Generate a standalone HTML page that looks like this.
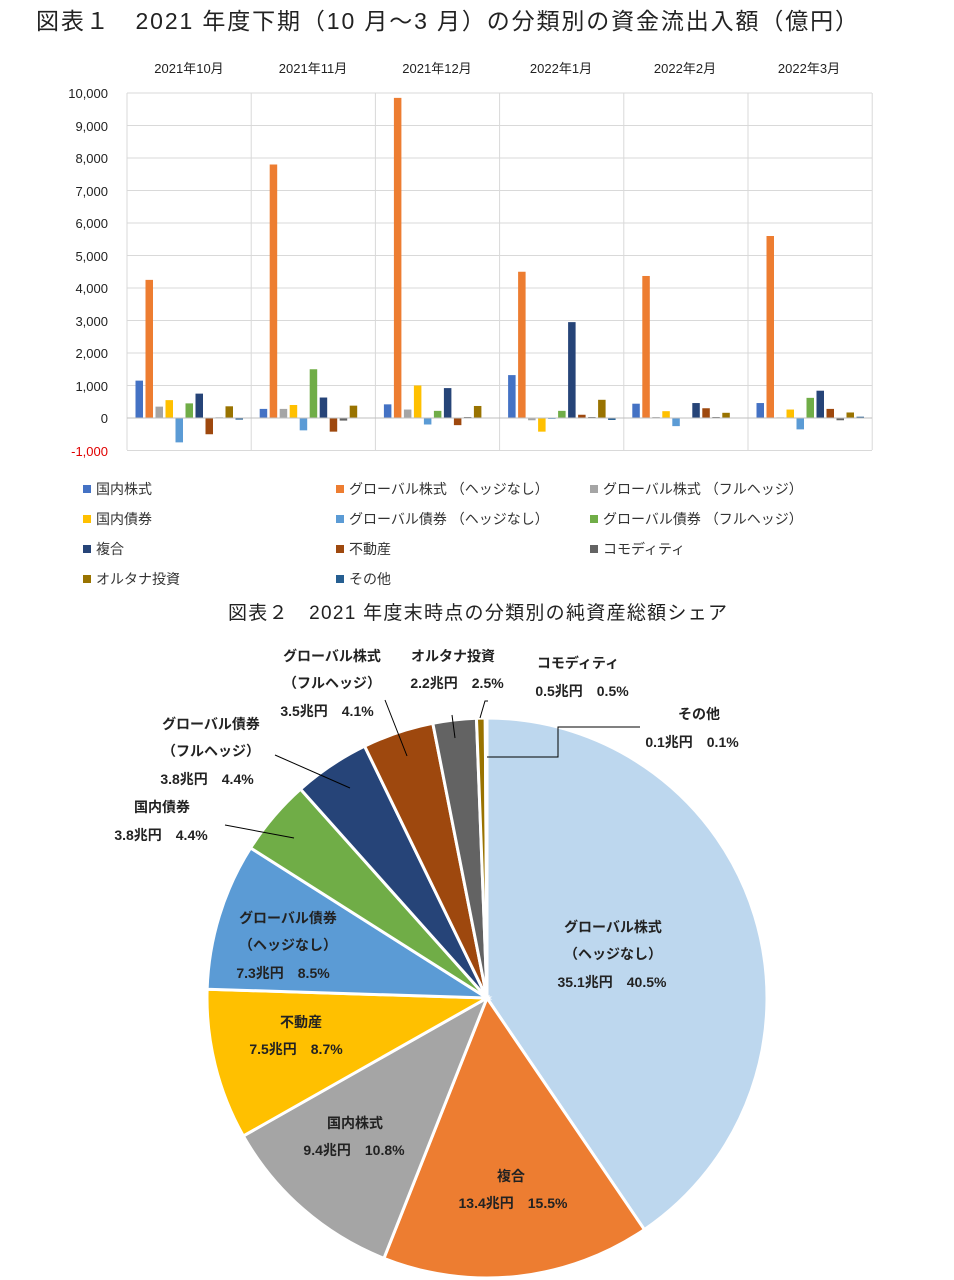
<!DOCTYPE html>
<html><head><meta charset="utf-8">
<style>
body{margin:0;background:#fff;width:954px;height:1280px;overflow:hidden;font-family:"Liberation Sans","Noto Sans CJK JP",sans-serif;color:#222}
svg{position:absolute;left:0;top:0}
text{font-family:"Liberation Sans","Noto Sans CJK JP",sans-serif}
</style></head><body>
<svg id="s" width="954" height="1280" xmlns="http://www.w3.org/2000/svg">
<text x="36" y="29" font-size="23" fill="#222" textLength="822" lengthAdjust="spacing">図表１　2021 年度下期（10 月～3 月）の分類別の資金流出入額（億円）</text>
<g font-size="13" fill="#222" text-anchor="middle">
<text x="189" y="73">2021年10月</text><text x="313" y="73">2021年11月</text><text x="437" y="73">2021年12月</text>
<text x="561" y="73">2022年1月</text><text x="685" y="73">2022年2月</text><text x="809" y="73">2022年3月</text>
</g>
<g font-size="13" fill="#222" text-anchor="end">
<text x="108" y="98">10,000</text><text x="108" y="131">9,000</text><text x="108" y="163">8,000</text>
<text x="108" y="196">7,000</text><text x="108" y="228">6,000</text><text x="108" y="261">5,000</text>
<text x="108" y="293">4,000</text><text x="108" y="326">3,000</text><text x="108" y="358">2,000</text>
<text x="108" y="391">1,000</text><text x="108" y="423">0</text><text x="108" y="456" fill="#e00000">-1,000</text>
</g>
<g id="bars"></g>
<g font-size="14" fill="#333">
<rect x="83" y="485" width="8" height="8" fill="#4472C4"/><text x="96" y="494">国内株式</text>
<rect x="336" y="485" width="8" height="8" fill="#ED7D31"/><text x="349" y="494">グローバル株式 （ヘッジなし）</text>
<rect x="590" y="485" width="8" height="8" fill="#A5A5A5"/><text x="603" y="494">グローバル株式 （フルヘッジ）</text>
<rect x="83" y="515" width="8" height="8" fill="#FFC000"/><text x="96" y="524">国内債券</text>
<rect x="336" y="515" width="8" height="8" fill="#5B9BD5"/><text x="349" y="524">グローバル債券 （ヘッジなし）</text>
<rect x="590" y="515" width="8" height="8" fill="#70AD47"/><text x="603" y="524">グローバル債券 （フルヘッジ）</text>
<rect x="83" y="545" width="8" height="8" fill="#264478"/><text x="96" y="554">複合</text>
<rect x="336" y="545" width="8" height="8" fill="#9E480E"/><text x="349" y="554">不動産</text>
<rect x="590" y="545" width="8" height="8" fill="#636363"/><text x="603" y="554">コモディティ</text>
<rect x="83" y="575" width="8" height="8" fill="#997300"/><text x="96" y="584">オルタナ投資</text>
<rect x="336" y="575" width="8" height="8" fill="#255E91"/><text x="349" y="584">その他</text>
</g>
<text x="228" y="619" font-size="19" fill="#222" textLength="499" lengthAdjust="spacing">図表２　2021 年度末時点の分類別の純資産総額シェア</text>
<g id="pie"></g>
<g stroke="#000" stroke-width="1" fill="none">
<polyline points="487,757 558,757 558,727 640,727"/>
<polyline points="480,718 485,701 488,701"/>
<polyline points="455,738 452,715"/>
<polyline points="407,756 385,700"/>
<polyline points="350,788 275,755"/>
<polyline points="294,838 225,825"/>
</g>
<g font-size="14" font-weight="bold" fill="#222" text-anchor="middle">
<text x="332" y="661">グローバル株式</text><text x="332" y="688">（フルヘッジ）</text><text x="327" y="716">3.5兆円　4.1%</text>
<text x="453" y="661">オルタナ投資</text><text x="457" y="688">2.2兆円　2.5%</text>
<text x="578" y="668">コモディティ</text><text x="582" y="696">0.5兆円　0.5%</text>
<text x="699" y="719">その他</text><text x="692" y="747">0.1兆円　0.1%</text>
<text x="211" y="729">グローバル債券</text><text x="211" y="756">（フルヘッジ）</text><text x="207" y="784">3.8兆円　4.4%</text>
<text x="162" y="812">国内債券</text><text x="161" y="840">3.8兆円　4.4%</text>
<text x="288" y="923">グローバル債券</text><text x="288" y="950">（ヘッジなし）</text><text x="283" y="978">7.3兆円　8.5%</text>
<text x="301" y="1027">不動産</text><text x="296" y="1054">7.5兆円　8.7%</text>
<text x="355" y="1128">国内株式</text><text x="354" y="1155">9.4兆円　10.8%</text>
<text x="511" y="1181">複合</text><text x="513" y="1208">13.4兆円　15.5%</text>
<text x="613" y="932">グローバル株式</text><text x="613" y="959">（ヘッジなし）</text><text x="612" y="987">35.1兆円　40.5%</text>
</g>
</svg>
<script>
var NS="http://www.w3.org/2000/svg";
function el(p,t,a){var e=document.createElementNS(NS,t);for(var k in a)e.setAttribute(k,a[k]);p.appendChild(e);return e;}
var b=document.getElementById('bars');
for(var i=0;i<=11;i++){var y=93+i*32.5;el(b,'line',{x1:127,x2:872,y1:y,y2:y,stroke:'#d9d9d9','stroke-width':1});}
for(var i=0;i<=6;i++){var x=127+i*124.2;el(b,'line',{x1:x,x2:x,y1:93,y2:450,stroke:'#d9d9d9','stroke-width':1});}
var cols=['#4472C4','#ED7D31','#A5A5A5','#FFC000','#5B9BD5','#70AD47','#264478','#9E480E','#636363','#997300','#255E91'];
var d=[[1.15,4.25,0.35,0.55,-0.75,0.45,0.75,-0.5,0.02,0.36,-0.05],
[0.28,7.8,0.28,0.4,-0.38,1.5,0.63,-0.42,-0.08,0.38,0],
[0.42,9.85,0.26,1.0,-0.2,0.22,0.92,-0.22,0.03,0.37,0],
[1.32,4.5,-0.07,-0.42,-0.03,0.22,2.95,0.1,0.03,0.56,-0.06],
[0.44,4.37,0.03,0.21,-0.25,-0.01,0.46,0.3,0.03,0.16,0],
[0.46,5.6,0.02,0.26,-0.35,0.62,0.84,0.28,-0.07,0.17,0.04]];
for(var g=0;g<6;g++)for(var s=0;s<11;s++){var v=d[g][s]*32.5;var x=127+g*124.2+8.5+s*10;
el(b,'rect',{x:x,y:v>0?418-v:418,width:7.5,height:Math.abs(v),fill:cols[s]});}
el(b,'line',{x1:127,x2:872,y1:418,y2:418,stroke:'#bfbfbf','stroke-width':1});
var p=document.getElementById('pie');
var sh=[40.5,15.5,10.8,8.7,8.5,4.4,4.4,4.1,2.5,0.5,0.1];
var pc=['#BDD7EE','#ED7D31','#A5A5A5','#FFC000','#5B9BD5','#70AD47','#264478','#9E480E','#636363','#997300','#255E91'];
var cx=487,cy=998,r=280,a=0;
for(var i=0;i<11;i++){var a2=a+sh[i]/100*2*Math.PI;
var x1=cx+r*Math.sin(a),y1=cy-r*Math.cos(a),x2=cx+r*Math.sin(a2),y2=cy-r*Math.cos(a2);
el(p,'path',{d:'M'+cx+','+cy+'L'+x1+','+y1+'A'+r+','+r+' 0 '+((a2-a)>Math.PI?1:0)+' 1 '+x2+','+y2+'Z',fill:pc[i],stroke:'#fff','stroke-width':3});a=a2;}
</script>
</body></html>
